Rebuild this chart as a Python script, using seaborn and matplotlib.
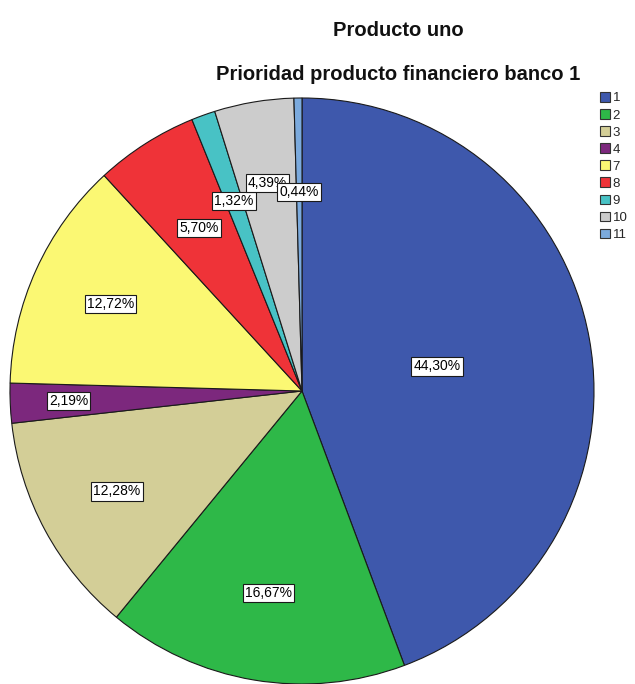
import matplotlib
matplotlib.use("Agg")
import matplotlib.pyplot as plt
import seaborn as sns
import numpy as np
from matplotlib.patches import Patch

sns.set_theme(style="white")
plt.rcParams['font.family'] = ['Liberation Sans', 'DejaVu Sans']

categories = ["1", "2", "3", "4", "7", "8", "9", "10", "11"]
percentages = [44.30, 16.67, 12.28, 2.19, 12.72, 5.70, 1.32, 4.39, 0.44]
colors = ["#3E58AC", "#2EB848", "#D3CE97", "#7C287D", "#FBF873",
          "#EF3338", "#48C2C5", "#CCCCCC", "#7BAADD"]
label_dist = [0.47, 0.70, 0.72, 0.80, 0.72, 0.66, 0.69, 0.72, 0.68]

fig = plt.figure(figsize=(6.35, 6.84), dpi=100)
ax = fig.add_axes([10/635, 1 - (391 + 293)/684, 584/635, 586/684])

wedges, _ = ax.pie(percentages, colors=colors, startangle=90, counterclock=False,
                   radius=1.0, wedgeprops=dict(edgecolor="#1a1a1a", linewidth=0.8))

for w, p, d in zip(wedges, percentages, label_dist):
    ang = np.deg2rad((w.theta1 + w.theta2) / 2)
    ax.text(d*np.cos(ang), d*np.sin(ang), f"{p:.2f}%".replace(".", ","),
            ha="center", va="center", fontsize=10, color="black",
            bbox=dict(boxstyle="square,pad=0.15", fc="white", ec="#1a1a1a", lw=0.8))

ax.set_xlim(-1, 1)
ax.set_ylim(-1, 1)
ax.set_aspect("auto")
ax.axis("off")

fig.text(398/635, 1 - 30/684, "Producto uno", ha="center", va="center",
         fontsize=14.5, fontweight="bold", color="#111111")
fig.text(398/635, 1 - 75/684, "Prioridad producto financiero banco 1", ha="center",
         va="center", fontsize=14.5, fontweight="bold", color="#111111")

handles = [Patch(facecolor=c, edgecolor="#333333", linewidth=0.8, label=l)
           for c, l in zip(colors, categories)]
fig.legend(handles=handles, loc="upper left", bbox_to_anchor=(600/635, 1 - 92/684),
           frameon=False, fontsize=9.5, handlelength=0.76, handleheight=0.76,
           handletextpad=0.2, labelspacing=0.35, borderpad=0, borderaxespad=0)

fig.savefig("out.png", dpi=100)
